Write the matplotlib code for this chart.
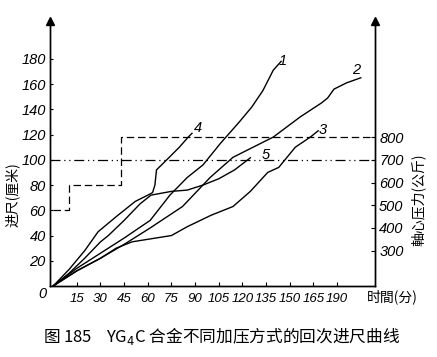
import matplotlib
matplotlib.use("Agg")
import matplotlib.pyplot as plt

# ---- data (time in minutes, advance in cm) ----
t1 = [0, 15, 30, 45, 61.5, 74, 85, 95, 106, 118, 126, 133, 139.5, 144.5]
v1 = [0, 14, 26, 38, 52, 72, 86, 96, 113, 130, 142, 155, 171, 178]

t2 = [0, 15, 30, 45, 61.5, 82, 99.5, 114, 139.5, 156.6, 170, 174, 178, 186, 195]
v2 = [0, 12, 22, 33, 46, 63, 86, 102, 118, 134, 145, 149, 156, 161, 165]

t3 = [0, 15, 30, 40, 50, 60, 75, 85, 100, 114, 125, 136, 143, 153.5, 163, 168]
v3 = [0, 12, 22, 30, 35, 37, 40, 47, 56, 63, 75, 90, 94, 110, 118, 123]

t4 = [0, 10, 20, 28.5, 40, 52, 60, 63, 64.5, 65.5, 72, 80, 85.6, 88]
v4 = [0, 13, 28, 43, 55, 67, 72, 74, 80, 92, 100, 110, 118, 121]

t5 = [0, 10, 20, 30, 35, 45, 55, 62, 75, 85, 95, 105, 115, 125]
v5 = [0, 10, 22, 35, 40, 52, 65, 72, 75, 76, 80, 85, 92, 101.6]

curve_names = ["1", "2", "3", "4", "5"]

# pressure programme (kg), right axis
press_t = [0, 10, 10, 43, 43, 204]
press_p = [480, 480, 590, 590, 800, 800]
press_const = 700

x_ticks = [15, 30, 45, 60, 75, 90, 105, 120, 135, 150, 165, 180]
x_ticklabels = ["15", "30", "45", "60", "75", "90", "105", "120", "135", "150", "165", "190"]
y_ticks = [20, 40, 60, 80, 100, 120, 140, 160, 180]
p_ticks = [300, 400, 500, 600, 700, 800]

# ---- figure ----
W, H = 437, 357
fig = plt.figure(figsize=(W / 100, H / 100), dpi=100)
ax = fig.add_axes([50 / W, (H - 286) / H, (375 - 50) / W, (286 - 21) / H])

num_font = dict(family=["Liberation Sans", "DejaVu Sans"], style="italic", size=10.5)
xnum_font = dict(family=["Liberation Sans", "DejaVu Sans"], style="italic", size=9.5)
cjk = ["Noto Sans CJK SC", "DejaVu Sans"]

XMIN, XMAX = -2, 204
YMIN, YMAX = 0, 210
ax.set_xlim(XMIN, XMAX)
ax.set_ylim(YMIN, YMAX)

for t, v in [(t1, v1), (t2, v2), (t3, v3), (t4, v4), (t5, v5)]:
    ax.plot(t, v, color="black", lw=1.0)

# right axis (pressure), mapping v = 100 + (P-700)*0.18
scale = 0.18
ax2 = ax.twinx()
ax2.set_ylim(700 + (YMIN - 100) / scale, 700 + (YMAX - 100) / scale)
ax2.plot(press_t, press_p, color="black", lw=0.9, ls=(0, (6, 3)))
ax2.plot([XMIN, XMAX], [press_const, press_const], color="black", lw=0.9,
         ls=(0, (8, 3, 1, 3, 1, 3)))
ax2.set_yticks(p_ticks)
ax2.set_yticklabels([str(p) for p in p_ticks], **num_font)
ax2.tick_params(axis="y", direction="in", length=3, width=0.8, pad=3)

ax.set_xticks(x_ticks)
ax.set_xticklabels(x_ticklabels, **xnum_font)
ax.set_yticks(y_ticks)
ax.set_yticklabels([str(y) for y in y_ticks], **num_font)
ax.tick_params(axis="x", direction="in", length=3, width=0.8, pad=5)
ax.tick_params(axis="y", direction="in", length=2, width=0.8, pad=3)

for a in (ax, ax2):
    a.spines["top"].set_visible(False)
    a.spines["left"].set_linewidth(1.0)
    a.spines["bottom"].set_linewidth(1.0)
    a.spines["right"].set_linewidth(1.0)
    a.set_xlim(XMIN, XMAX)

# origin label
fig.text(42 / W, 1 - 294 / H, "0", ha="center", va="center", **num_font)

# arrows on top of the vertical axes
ax.plot([0], [1.0], marker="^", color="black", markersize=6,
        transform=ax.transAxes, clip_on=False)
ax.plot([1], [1.0], marker="^", color="black", markersize=6,
        transform=ax.transAxes, clip_on=False)

# curve labels
label_pos = [(145.5, 178), (192, 171), (171, 124), (92, 125), (135, 104)]
for name, (lx, ly) in zip(curve_names, label_pos):
    ax.text(lx, ly, name, ha="center", va="center", **num_font)

# axis titles
fig.text(12 / W, 1 - 195 / H, "进尺(厘米)", rotation=90, ha="center", va="center",
         family=cjk, size=10)
fig.text(418 / W, 1 - 200 / H, "軸心压力(公斤)", rotation=90, ha="center", va="center",
         family=cjk, size=10)
fig.text(367 / W, 1 - 297 / H, "时間(分)", ha="left", va="center", family=cjk, size=10)
fig.text(222 / W, 1 - 336 / H, "图 185    YG$_4$C 合金不同加压方式的回次进尺曲线",
         ha="center", va="center", family=cjk, size=12)

fig.savefig("out.png", dpi=100)
